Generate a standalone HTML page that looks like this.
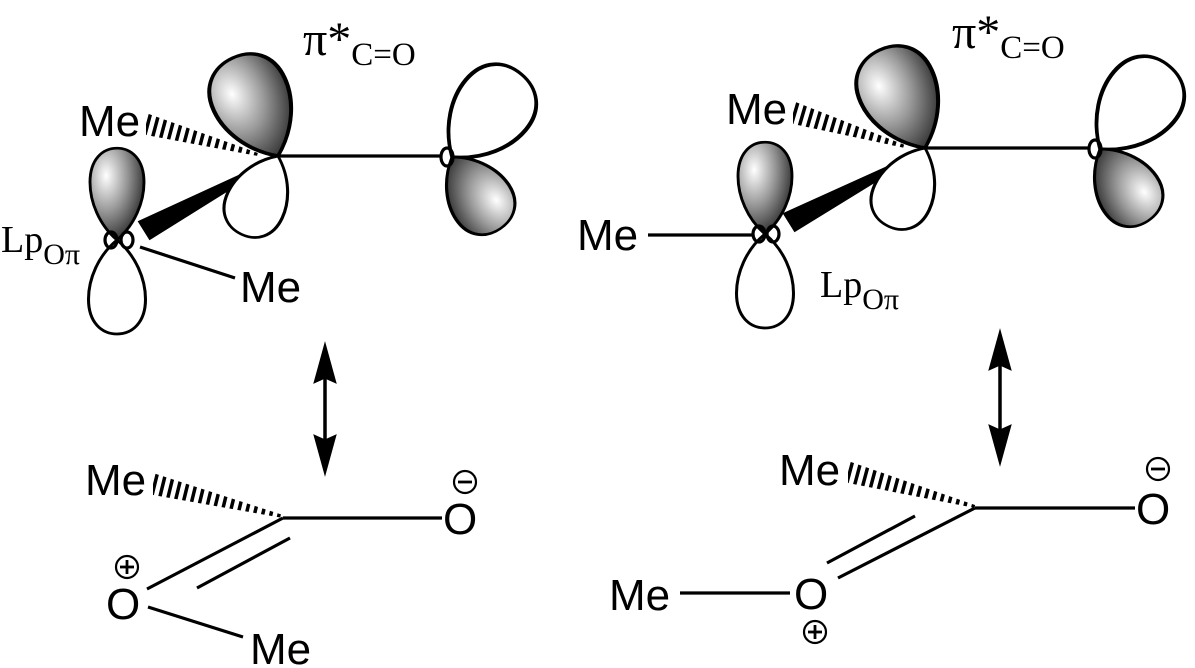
<!DOCTYPE html>
<html><head><meta charset="utf-8"><style>
html,body{margin:0;padding:0;background:#fff}
svg{display:block}
.s{font-family:"Liberation Sans",sans-serif;font-size:44px;fill:#000}
.r{font-family:"Liberation Serif",serif;fill:#000}
</style></head><body>
<svg width="1195" height="668" viewBox="0 0 1195 668" xmlns="http://www.w3.org/2000/svg">
<defs>
<radialGradient id="g" cx="0.3" cy="0.3" r="0.85">
<stop offset="0" stop-color="#fff"/><stop offset="0.45" stop-color="#999"/><stop offset="1" stop-color="#111"/>
</radialGradient>
<path id="lobe" d="M0,0 C-20,-18 -30,-45 -30,-68 C-30,-95 -16,-108 0,-108 C16,-108 30,-95 30,-68 C30,-45 20,-18 0,0 Z"/>
<clipPath id="h1"><polygon points="146,113 146,135 258,156 258,153"/></clipPath>
<clipPath id="h2"><polygon points="793,101 793,124 905,148 905,145"/></clipPath>
<clipPath id="h3"><polygon points="153,473 153,495 283,518 283,515"/></clipPath>
<clipPath id="h4"><polygon points="848,461 848,483 975,508 975,505"/></clipPath>
</defs>
<g stroke="#000" stroke-width="3" fill="none">
<line x1="146" y1="124" x2="258" y2="154" stroke-width="26" stroke-dasharray="3.5 4.5" clip-path="url(#h1)"/>
<line x1="793" y1="113" x2="905" y2="146" stroke-width="26" stroke-dasharray="3.5 4.5" clip-path="url(#h2)"/>
<line x1="153" y1="484" x2="283" y2="516" stroke-width="26" stroke-dasharray="3.5 4.5" clip-path="url(#h3)"/>
<line x1="848" y1="472" x2="975" y2="506" stroke-width="26" stroke-dasharray="3.5 4.5" clip-path="url(#h4)"/>
</g>
<!-- LEFT TOP -->
<g stroke="#000" stroke-width="3.2">
<line x1="278" y1="156" x2="440" y2="156"/>
<line x1="140" y1="247" x2="235" y2="278"/>
<polygon points="140,222 150,238 275,160" fill="#000"/>
<use href="#lobe" transform="translate(278,156) rotate(-25) scale(1.3,1.0)" fill="url(#g)"/>
<use href="#lobe" transform="translate(278,156) rotate(205) scale(1,0.8)" fill="#fff"/>
<use href="#lobe" transform="translate(452,157) rotate(40) scale(1.3,1.0)" fill="#fff"/>
<use href="#lobe" transform="translate(452,157) rotate(146) scale(1.05,0.8)" fill="url(#g)"/>
<ellipse cx="447" cy="157" rx="6" ry="9" fill="none"/>
<use href="#lobe" transform="translate(117,240) scale(0.9,0.85)" fill="url(#g)"/>
<use href="#lobe" transform="translate(117,240) rotate(180) scale(0.95,0.87)" fill="#fff"/>
<ellipse cx="111" cy="240" rx="6" ry="8" fill="none"/>
<ellipse cx="127" cy="240" rx="6" ry="8" fill="none"/>
</g>
<text class="s" x="79" y="136">Me</text>
<text class="s" x="240" y="302">Me</text>
<text class="r" x="1" y="252" font-size="38">Lp<tspan font-size="30" dy="12">Oπ</tspan></text>
<text class="r" x="303" y="55" font-size="48">π*<tspan font-size="33" dy="10">C=O</tspan></text>
<!-- RIGHT TOP -->
<g stroke="#000" stroke-width="3.2">
<line x1="925" y1="148" x2="1088" y2="148"/>
<line x1="648" y1="235" x2="752" y2="235"/>
<polygon points="785,214 795,230 922,152" fill="#000"/>
<use href="#lobe" transform="translate(925,148) rotate(-25) scale(1.3,1.0)" fill="url(#g)"/>
<use href="#lobe" transform="translate(925,148) rotate(205) scale(1,0.8)" fill="#fff"/>
<use href="#lobe" transform="translate(1100,149) rotate(40) scale(1.3,1.0)" fill="#fff"/>
<use href="#lobe" transform="translate(1100,149) rotate(146) scale(1.05,0.8)" fill="url(#g)"/>
<ellipse cx="1095" cy="149" rx="6" ry="9" fill="none"/>
<use href="#lobe" transform="translate(765,234) scale(0.9,0.85)" fill="url(#g)"/>
<use href="#lobe" transform="translate(765,234) rotate(180) scale(0.95,0.87)" fill="#fff"/>
<ellipse cx="759" cy="234" rx="6" ry="8" fill="none"/>
<ellipse cx="773" cy="234" rx="6" ry="8" fill="none"/>
</g>
<text class="s" x="726" y="124">Me</text>
<text class="s" x="577" y="250">Me</text>
<text class="r" x="820" y="297" font-size="38">Lp<tspan font-size="30" dy="12">Oπ</tspan></text>
<text class="r" x="952" y="48" font-size="48">π*<tspan font-size="33" dy="10">C=O</tspan></text>
<!-- arrows -->
<g stroke="#000" stroke-width="3.5" fill="#000">
<line x1="325" y1="360" x2="325" y2="460"/>
<polygon points="325,343 314,383 325,378 336,383" stroke-width="1"/>
<polygon points="325,475 314,435 325,440 336,435" stroke-width="1"/>
<line x1="1000" y1="345" x2="1000" y2="450"/>
<polygon points="1000,330 989,370 1000,365 1011,370" stroke-width="1"/>
<polygon points="1000,465 989,425 1000,430 1011,425" stroke-width="1"/>
</g>
<!-- BOTTOM LEFT -->
<g stroke="#000" stroke-width="3.2" fill="none">
<line x1="283" y1="518" x2="442" y2="518"/>
<line x1="283" y1="518" x2="147" y2="589"/>
<line x1="290" y1="538" x2="197" y2="588"/>
<line x1="148" y1="607" x2="243" y2="637"/>
<circle cx="465" cy="482" r="11" stroke-width="2.2"/>
<line x1="458" y1="482" x2="472" y2="482" stroke-width="2.8"/>
<circle cx="127" cy="567" r="11" stroke-width="2.2"/>
<line x1="120" y1="567" x2="134" y2="567" stroke-width="2.8"/>
<line x1="127" y1="560" x2="127" y2="574" stroke-width="2.8"/>
</g>
<text class="s" x="85" y="495">Me</text>
<text class="s" x="443" y="534">O</text>
<text class="s" x="106" y="619">O</text>
<text class="s" x="250" y="664">Me</text>
<!-- BOTTOM RIGHT -->
<g stroke="#000" stroke-width="3.2" fill="none">
<line x1="975" y1="508" x2="1135" y2="508"/>
<line x1="975" y1="508" x2="838" y2="578"/>
<line x1="915" y1="516" x2="827" y2="563"/>
<line x1="680" y1="593" x2="790" y2="593"/>
<circle cx="1158" cy="469" r="11" stroke-width="2.2"/>
<line x1="1151" y1="469" x2="1165" y2="469" stroke-width="2.8"/>
<circle cx="815" cy="632" r="11" stroke-width="2.2"/>
<line x1="808" y1="632" x2="822" y2="632" stroke-width="2.8"/>
<line x1="815" y1="625" x2="815" y2="639" stroke-width="2.8"/>
</g>
<text class="s" x="779" y="485">Me</text>
<text class="s" x="1136" y="524">O</text>
<text class="s" x="794" y="609">O</text>
<text class="s" x="609" y="610">Me</text>
</svg>
</body></html>
